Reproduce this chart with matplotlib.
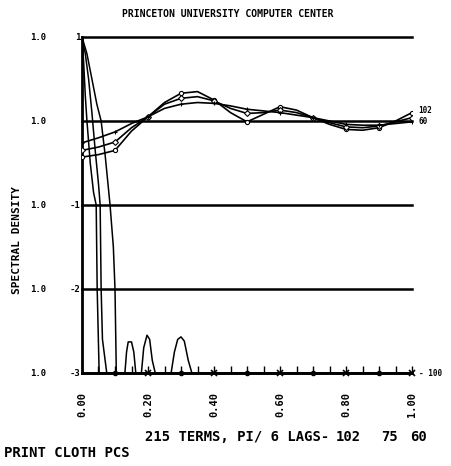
import numpy as np
import matplotlib
matplotlib.use("Agg")
import matplotlib.pyplot as plt

# frequency grid (cycles per 2 intervals) for the smoothed curves
freq = [0.00, 0.05, 0.10, 0.15, 0.20, 0.25, 0.30, 0.35, 0.40, 0.45, 0.50,
        0.55, 0.60, 0.65, 0.70, 0.75, 0.80, 0.85, 0.90, 0.95, 1.00]
# log10 spectral density, wavy curves (lags 102, 75, 60)
wavy_102 = [-0.43, -0.40, -0.35, -0.12, 0.05, 0.22, 0.33, 0.35, 0.25, 0.10, -0.01,
            0.08, 0.17, 0.13, 0.04, -0.04, -0.10, -0.11, -0.08, 0.00, 0.10]
wavy_75 = [-0.35, -0.31, -0.25, -0.08, 0.05, 0.20, 0.27, 0.29, 0.24, 0.15, 0.09,
           0.10, 0.13, 0.10, 0.04, -0.02, -0.07, -0.08, -0.06, -0.01, 0.04]
wavy_60 = [-0.26, -0.20, -0.13, -0.03, 0.05, 0.15, 0.20, 0.22, 0.21, 0.18, 0.14,
           0.12, 0.10, 0.07, 0.04, 0.00, -0.04, -0.05, -0.05, -0.03, -0.01]

# narrow low-frequency peaks (log10), clipped at -3
narrow_102_x = [0.0, 0.005, 0.01, 0.015, 0.025, 0.035, 0.043, 0.046, 0.052,
                0.13, 0.135, 0.14, 0.15, 0.157, 0.163, 0.18, 0.187, 0.197, 0.205,
                0.213, 0.222, 0.27, 0.28, 0.29, 0.30, 0.31, 0.322, 0.333, 0.40,
                0.50, 0.60, 0.70, 0.80, 0.90, 1.00]
narrow_102 = [1.0, 0.7, 0.3, 0.0, -0.5, -0.85, -1.0, -2.0, -3.0,
              -3.0, -2.75, -2.63, -2.63, -2.75, -3.0, -3.0, -2.7, -2.55, -2.6,
              -2.85, -3.0, -3.0, -2.75, -2.6, -2.57, -2.62, -2.85, -3.0, -3.0,
              -3.0, -3.0, -3.0, -3.0, -3.0, -3.0]
narrow_75_x = [0.0, 0.01, 0.02, 0.03, 0.04, 0.05, 0.055, 0.058, 0.062, 0.075,
               0.2, 0.4, 0.6, 0.8, 1.0]
narrow_75 = [1.0, 0.8, 0.5, 0.1, -0.35, -0.75, -1.0, -2.0, -2.6, -3.0,
             -3.0, -3.0, -3.0, -3.0, -3.0]
narrow_60_x = [0.0, 0.015, 0.03, 0.045, 0.058, 0.07, 0.085, 0.095, 0.10, 0.104,
               0.1, 0.3, 0.5, 0.7, 0.9]
narrow_60 = [1.0, 0.8, 0.5, 0.2, 0.0, -0.4, -1.0, -1.5, -2.0, -3.0,
             -3.0, -3.0, -3.0, -3.0, -3.0]

decades = [1e-3, 1e-2, 1e-1, 1e0, 1e1]
exp_labels = ["-3", "-2", "-1", "", "1"]
xticks = [0.0, 0.2, 0.4, 0.6, 0.8, 1.0]
xtick_labels = ["0.00", "0.20", "0.40", "0.60", "0.80", "1.00"]

mono = "DejaVu Sans Mono"
W, H = 452, 466
fig = plt.figure(figsize=(W / 100, H / 100), dpi=100)
ax = fig.add_axes([82 / W, (H - 373) / H, 330 / W, 336 / H])
ax.set_yscale("log")
ax.set_xlim(0, 1.0)
ax.set_ylim(1e-3, 1e1)

for d in decades:
    ax.plot([0, 1.0], [d, d], color="black", lw=1.8, clip_on=False, zorder=1)

for vals, m in [(wavy_102, "o"), (wavy_75, "D"), (wavy_60, "+")]:
    ax.plot(freq, 10 ** np.array(vals), color="black", lw=1.2, marker=m, ms=3,
            mfc="white", mew=0.8, markevery=2, zorder=3)

ax.plot(narrow_102_x, 10 ** np.array(narrow_102), color="black", lw=1.1, zorder=3)
ax.plot(narrow_75_x[:10], 10 ** np.array(narrow_75[:10]), color="black", lw=1.1, zorder=3)
ax.plot(narrow_75_x[10:], 10 ** np.array(narrow_75[10:]), ls="none", marker="x",
        color="black", ms=4, mew=1.2, clip_on=False, zorder=4)
ax.plot(narrow_60_x[:10], 10 ** np.array(narrow_60[:10]), color="black", lw=1.1, zorder=3)
ax.plot(narrow_60_x[10:], 10 ** np.array(narrow_60[10:]), ls="none", marker="o",
        color="black", ms=3, clip_on=False, zorder=4)

for s in ["top", "right"]:
    ax.spines[s].set_visible(False)
ax.spines["left"].set_linewidth(2)
ax.spines["bottom"].set_linewidth(2)

ax.set_yticks(decades)
ax.set_yticklabels([])
ax.yaxis.set_minor_locator(matplotlib.ticker.NullLocator())
ax.tick_params(axis="y", length=0)
for d, e in zip(decades, exp_labels):
    ax.text(-0.133, d, "1.0", transform=ax.get_yaxis_transform(), ha="center",
            va="center", fontsize=6.5, fontweight="bold", family=mono)
    if e:
        ax.text(-0.005, d, e, transform=ax.get_yaxis_transform(), ha="right",
                va="center", fontsize=6.5, fontweight="bold", family=mono)

ax.set_xticks(xticks)
ax.set_xticklabels(xtick_labels, rotation=90, fontsize=7.5, fontweight="bold", family=mono)
ax.set_xticks(np.arange(0, 1.001, 0.05), minor=True)
ax.tick_params(axis="x", which="both", direction="in", length=5, width=1, pad=14)

ax.text(1.02, 10 ** 0.12, "102", transform=ax.get_yaxis_transform(), fontsize=5.5,
        fontweight="bold", family=mono, va="center", ha="left")
ax.text(1.02, 10 ** 0.0, "60", transform=ax.get_yaxis_transform(), fontsize=5.5,
        fontweight="bold", family=mono, va="center", ha="left")
ax.text(1.02, 1e-3, "- 100", transform=ax.get_yaxis_transform(), fontsize=5.5,
        fontweight="bold", family=mono, va="center", ha="left")

fig.text(228 / W, 1 - 14 / H, "PRINCETON UNIVERSITY COMPUTER CENTER", ha="center",
         va="center", fontsize=7, fontweight="bold", family=mono)
fig.text(17 / W, 1 - 240 / H, "SPECTRAL DENSITY", rotation=90, ha="center",
         va="center", fontsize=8, fontweight="bold", family=mono)
fig.text(145 / W, 1 - 437 / H, "215 TERMS, PI/ 6 LAGS-", ha="left", va="center",
         fontsize=10, fontweight="bold", family=mono)
for lab, px in [("102", 348), ("75", 390), ("60", 419)]:
    fig.text(px / W, 1 - 437 / H, lab, ha="center", va="center",
             fontsize=10, fontweight="bold", family=mono)
fig.text(4 / W, 1 - 453 / H, "PRINT CLOTH PCS", ha="left", va="center",
         fontsize=10, fontweight="bold", family=mono)

fig.savefig("out.png", dpi=100)
